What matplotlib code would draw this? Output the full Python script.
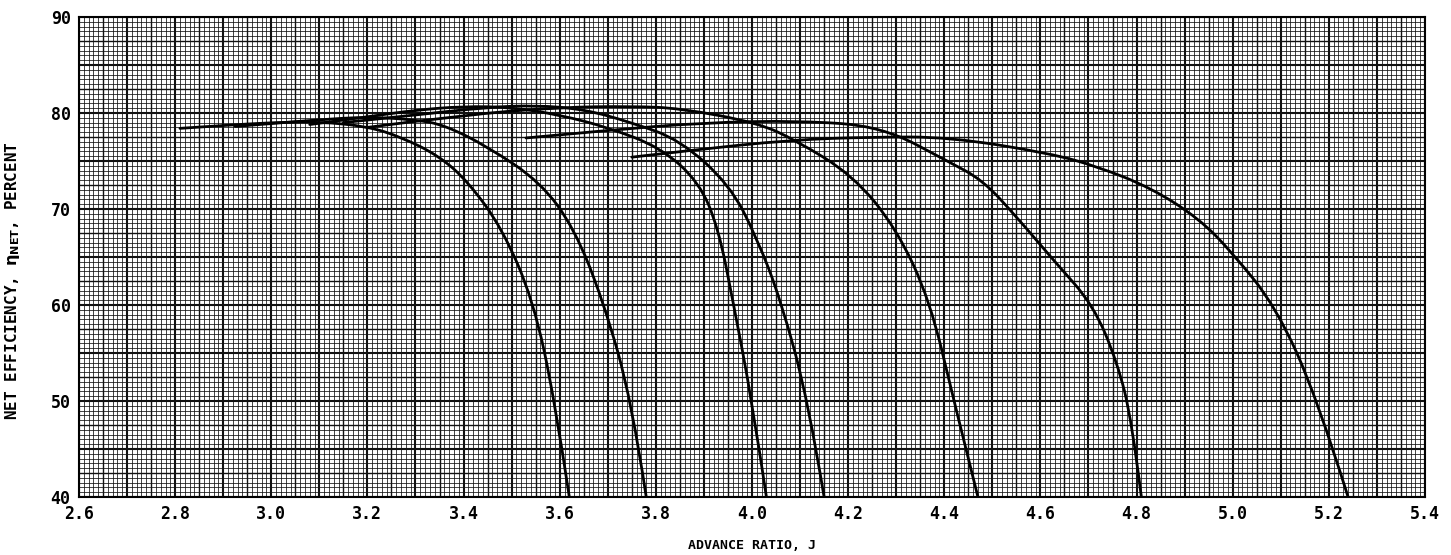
import numpy as np
import matplotlib
matplotlib.use("Agg")
import matplotlib.pyplot as plt
from matplotlib.path import Path
from matplotlib.patches import PathPatch

# advance ratio J / net efficiency (percent), one pair of lists per curve
j1 = [2.81, 2.9, 3.0, 3.1, 3.2, 3.27, 3.35, 3.41, 3.48, 3.545, 3.59, 3.62]
e1 = [78.4, 78.7, 79.0, 79.1, 78.6, 77.5, 75.5, 72.8, 68.0, 60.5, 50.0, 40.0]
j2 = [2.925, 3.0, 3.1, 3.2, 3.3, 3.36, 3.45, 3.56, 3.63, 3.69, 3.75, 3.78]
e2 = [78.6, 78.9, 79.3, 79.6, 79.3, 78.75, 76.5, 72.8, 68.0, 60.5, 50.0, 40.0]
j3 = [3.08, 3.2, 3.3, 3.4, 3.5, 3.6, 3.7, 3.81, 3.89, 3.93, 3.96, 4.0, 4.03]
e3 = [78.8, 79.6, 80.3, 80.7, 80.6, 79.8, 78.5, 76.4, 72.8, 68.0, 60.5, 50.0, 40.0]
j4 = [3.15, 3.3, 3.45, 3.55, 3.65, 3.75, 3.85, 3.954, 4.01, 4.06, 4.117, 4.15]
e4 = [79.0, 79.8, 80.6, 80.8, 80.4, 79.0, 77.2, 72.5, 67.0, 60.5, 50.0, 40.0]
j5 = [3.2, 3.4, 3.6, 3.75, 3.85, 4.01, 4.09, 4.21, 4.3, 4.37, 4.42, 4.47]
e5 = [78.5, 79.8, 80.6, 80.7, 80.5, 79.0, 77.2, 73.5, 68.0, 60.5, 50.0, 40.0]
j6 = [3.53, 3.7, 3.9, 4.1, 4.27, 4.41, 4.48, 4.55, 4.63, 4.71, 4.76, 4.79, 4.81]
e6 = [77.4, 78.2, 79.0, 79.2, 78.6, 74.9, 73.0, 69.2, 64.5, 60.0, 54.0, 48.0, 40.0]
j7 = [3.75, 3.87, 4.08, 4.25, 4.41, 4.62, 4.72, 4.83, 4.93, 5.0, 5.09, 5.175, 5.24]
e7 = [75.4, 76.1, 77.2, 77.5, 77.5, 75.8, 74.4, 72.2, 69.0, 65.4, 59.8, 50.4, 40.0]

curves = [(j1, e1), (j2, e2), (j3, e3), (j4, e4), (j5, e5), (j6, e6), (j7, e7)]

xticks = [2.6, 2.8, 3.0, 3.2, 3.4, 3.6, 3.8, 4.0, 4.2, 4.4, 4.6, 4.8, 5.0, 5.2, 5.4]
yticks = [40, 50, 60, 70, 80, 90]

plt.rcParams['font.family'] = 'DejaVu Sans Mono'
plt.rcParams['font.weight'] = 'bold'

fig = plt.figure(figsize=(14.51, 5.55), dpi=100)
ax = fig.add_axes([79/1451, 58/555, 1346/1451, 480/555])

ax.set_xlim(2.6, 5.4)
ax.set_ylim(40, 90)

# graph paper grid
for x in np.arange(2.6, 5.4001, 0.01):
    k = int(round((x - 2.6) * 100))
    if k % 10 == 0:
        lw = 1.5
    elif k % 5 == 0:
        lw = 1.0
    else:
        lw = 0.55
    ax.axvline(x, color='#111111', lw=lw, zorder=1)
for y in np.arange(40, 90.001, 0.5):
    k = int(round((y - 40) * 2))
    if k % 10 == 0:
        lw = 1.5
    elif k % 5 == 0:
        lw = 1.0
    else:
        lw = 0.55
    ax.axhline(y, color='#111111', lw=lw, zorder=1)


def smooth_path(xs, ys):
    # quadratic bezier through the midpoints, read points act as controls
    pts = list(zip(xs, ys))
    verts = [pts[0]]
    codes = [Path.MOVETO]
    for i in range(1, len(pts) - 1):
        mid = ((pts[i][0] + pts[i + 1][0]) / 2, (pts[i][1] + pts[i + 1][1]) / 2)
        if i == len(pts) - 2:
            mid = pts[-1]
        verts += [pts[i], mid]
        codes += [Path.CURVE3, Path.CURVE3]
    return Path(verts, codes)


for jj, ee in curves:
    ax.add_patch(PathPatch(smooth_path(jj, ee), fill=False, edgecolor='black',
                           lw=2.0, capstyle='round', zorder=3))

ax.set_xticks(xticks)
ax.set_xticklabels(['%.1f' % v for v in xticks])
ax.set_yticks(yticks)
ax.tick_params(length=0, labelsize=12, pad=6)
for sp in ax.spines.values():
    sp.set_linewidth(1.5)

ax.set_xlabel('ADVANCE RATIO, J', fontsize=9.5, fontweight='bold')
ax.xaxis.set_label_coords(0.5, -0.087)
ax.set_ylabel(r'NET EFFICIENCY, $\mathbf{\eta_{NET}}$, PERCENT', fontsize=11.5,
              fontweight='bold')
ax.yaxis.set_label_coords(-0.042, 0.45)

fig.savefig('out.png', dpi=100)
